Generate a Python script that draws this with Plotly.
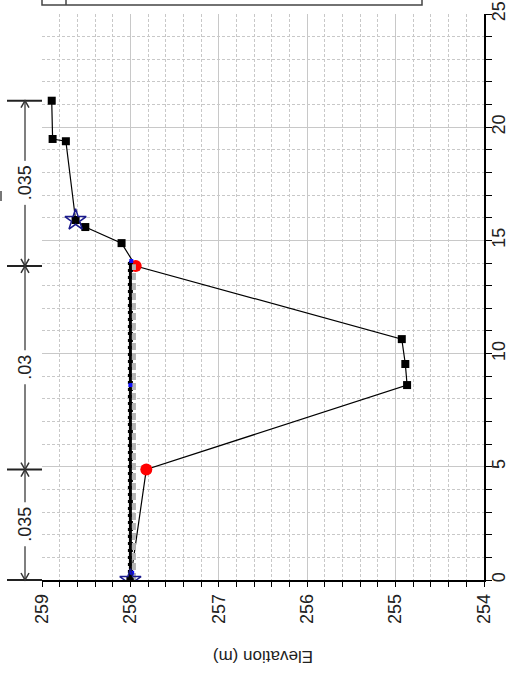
import plotly.graph_objects as go

# Cross-section geometry (station in m, elevation in m)
ground_station = [0.0, 4.88, 8.61, 9.54, 10.64, 13.87, 14.88, 15.59, 15.90, 19.38, 19.48, 21.17]
ground_elev = [258.00, 257.82, 254.87, 254.89, 254.93, 257.94, 258.10, 258.51, 258.62, 258.73, 258.88, 258.89]

bank_station = [4.88, 13.87]
bank_elev = [257.82, 257.94]

levee_station = [0.0, 15.90]
levee_elev = [258.00, 258.62]

# Water surface profiles
ws1_station = [0.0, 14.09]
ws1_elev = [258.00, 258.00]
ws2_station = [0.0, 13.95]
ws2_elev = [257.96, 257.96]
ws_pts_station = [0.32, 8.61, 14.09]
ws_pts_elev = [257.98, 258.00, 257.99]

# Manning's n regions
n_breaks = [0.0, 4.88, 13.87, 21.17]
n_labels = [".035", ".03", ".035"]

x_tick_vals = [259, 258, 257, 256, 255, 254]
y_tick_vals = [0, 5, 10, 15, 20, 25]

ELEV_RANGE = [259, 254]
STA_RANGE = [0, 25]

W, H = 510, 675
ML, MR, MT, MB = 42, 26, 14, 95
PW = W - ML - MR
PH = H - MT - MB

FONT = "Arial, Liberation Sans, sans-serif"


def px_x(px):
    return (px - ML) / PW


def px_y(py):
    return (H - MB - py) / PH


def sta_to_paper(s):
    return (s - STA_RANGE[0]) / (STA_RANGE[1] - STA_RANGE[0])


fig = go.Figure()

# ground
fig.add_trace(go.Scatter(
    x=ground_elev, y=ground_station, mode="lines+markers",
    line=dict(color="black", width=1.2),
    marker=dict(symbol="square", size=8, color="black"),
    showlegend=False, hoverinfo="skip"))

# bank stations
fig.add_trace(go.Scatter(
    x=bank_elev, y=bank_station, mode="markers",
    marker=dict(symbol="circle", size=12, color="#ff0000"),
    showlegend=False, hoverinfo="skip"))

# water surfaces
fig.add_trace(go.Scatter(
    x=ws1_elev, y=ws1_station, mode="lines",
    line=dict(color="black", width=3),
    showlegend=False, hoverinfo="skip"))
fig.add_trace(go.Scatter(
    x=ws1_elev, y=ws1_station, mode="lines",
    line=dict(color="black", width=5, dash="3px,4px"),
    showlegend=False, hoverinfo="skip"))
fig.add_trace(go.Scatter(
    x=ws2_elev, y=ws2_station, mode="lines",
    line=dict(color="#b4b4b4", width=4, dash="7px,3px"),
    showlegend=False, hoverinfo="skip"))

# water surface points
fig.add_trace(go.Scatter(
    x=ws_pts_elev, y=ws_pts_station, mode="markers",
    marker=dict(symbol="square", size=4, color="#1010ff"),
    showlegend=False, hoverinfo="skip"))

# levees
fig.add_trace(go.Scatter(
    x=levee_elev, y=levee_station, mode="markers",
    marker=dict(symbol="circle", size=7, color="black"),
    showlegend=False, hoverinfo="skip"))
fig.add_trace(go.Scatter(
    x=levee_elev, y=levee_station, mode="markers",
    marker=dict(symbol="star-open", size=16, color="#1a1a8c",
                line=dict(width=1.5, color="#1a1a8c")),
    showlegend=False, hoverinfo="skip"))

shapes = []
annotations = []

# Manning's n dimension lines
ax_x = px_x(25)
dx = 4 / PW
dy = 7 / PH
for s in n_breaks:
    yp = sta_to_paper(s)
    shapes.append(dict(type="line", xref="paper", yref="paper",
                       x0=px_x(7), x1=0, y0=yp, y1=yp,
                       line=dict(color="#222222", width=2)))
shapes.append(dict(type="line", xref="paper", yref="paper",
                   x0=ax_x, x1=ax_x,
                   y0=sta_to_paper(n_breaks[0]), y1=sta_to_paper(n_breaks[-1]),
                   line=dict(color="#555555", width=1.5)))
for i in range(len(n_labels)):
    lo = sta_to_paper(n_breaks[i])
    hi = sta_to_paper(n_breaks[i + 1])
    # open arrowheads at both ends of each region
    shapes.append(dict(type="path", xref="paper", yref="paper",
                       path=f"M{ax_x - dx},{lo + dy} L{ax_x},{lo} L{ax_x + dx},{lo + dy}",
                       line=dict(color="#333333", width=1.5)))
    shapes.append(dict(type="path", xref="paper", yref="paper",
                       path=f"M{ax_x - dx},{hi - dy} L{ax_x},{hi} L{ax_x + dx},{hi - dy}",
                       line=dict(color="#333333", width=1.5)))
    annotations.append(dict(
        x=ax_x, xref="paper", y=(n_breaks[i] + n_breaks[i + 1]) / 2, yref="y",
        xanchor="center", yanchor="middle",
        text=n_labels[i], showarrow=False, textangle=-90,
        font=dict(family=FONT, size=18, color="#222222"),
        bgcolor="white", borderpad=4))

# legend frame
shapes.append(dict(type="rect", xref="paper", yref="paper",
                   x0=0, x1=px_x(422), y0=px_y(5), y1=px_y(-30),
                   line=dict(color="#444444", width=1.5), fillcolor="rgba(0,0,0,0)"))
shapes.append(dict(type="line", xref="paper", yref="paper",
                   x0=px_x(66), x1=px_x(66), y0=px_y(5), y1=px_y(-30),
                   line=dict(color="#444444", width=1.5)))
# title remnant
shapes.append(dict(type="line", xref="paper", yref="paper",
                   x0=px_x(1), x1=px_x(1), y0=px_y(191), y1=px_y(201),
                   line=dict(color="#777777", width=2)))

annotations.append(dict(
    x=0.5, xref="paper", y=px_y(657), yref="paper",
    xanchor="center", yanchor="middle",
    text="Elevation (m)", showarrow=False, textangle=180,
    font=dict(family=FONT, size=17, color="#222222")))

grid_col = "#c8c8c8"
fig.update_layout(
    width=W, height=H,
    margin=dict(l=ML, r=MR, t=MT, b=MB, pad=0, autoexpand=False),
    paper_bgcolor="white", plot_bgcolor="white",
    font=dict(family=FONT, size=18, color="#222222"),
    shapes=shapes, annotations=annotations,
    xaxis=dict(
        range=ELEV_RANGE, autorange=False, automargin=False,
        tickmode="array", tickvals=x_tick_vals,
        ticktext=[str(v) for v in x_tick_vals],
        tickangle=-90, ticks="outside", ticklen=5, tickcolor="black",
        showline=True, linecolor="black", linewidth=1.5,
        showgrid=True, gridcolor=grid_col, gridwidth=1,
        zeroline=False,
        minor=dict(dtick=0.2, showgrid=True, gridcolor=grid_col,
                   griddash="3px,2px", gridwidth=1,
                   ticks="outside", ticklen=5, tickcolor="black"),
        tickfont=dict(family=FONT, size=18, color="#222222"),
    ),
    yaxis=dict(
        range=STA_RANGE, autorange=False, side="right", automargin=False,
        tickmode="array", tickvals=y_tick_vals,
        ticktext=[str(v) for v in y_tick_vals],
        tickangle=-90, ticks="outside", ticklen=6, tickcolor="black",
        ticklabelstandoff=-8,
        showline=True, linecolor="black", linewidth=1.5,
        showgrid=True, gridcolor=grid_col, gridwidth=1,
        zeroline=False,
        minor=dict(dtick=1, showgrid=True, gridcolor=grid_col,
                   griddash="3px,2px", gridwidth=1,
                   ticks="outside", ticklen=6, tickcolor="black"),
        tickfont=dict(family=FONT, size=18, color="#222222"),
    ),
)

fig.write_html("out.html")
